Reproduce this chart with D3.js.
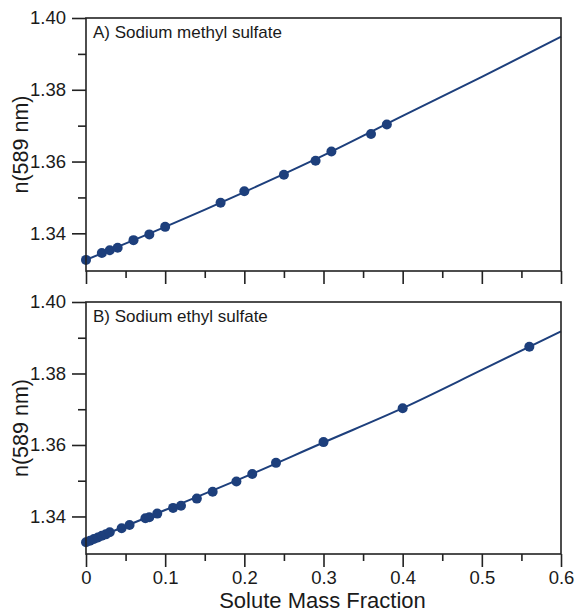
<!DOCTYPE html>
<html><head><meta charset="utf-8">
<script src="https://cdn.jsdelivr.net/npm/d3@7"></script>
<style>body{margin:0;background:#fff}svg{display:block}text{font-family:"Liberation Sans",Arial,sans-serif;fill:#1a1a1a}</style>
</head><body><svg id="c" width="576" height="614"></svg>
<script>
// Panel A: sodium methyl sulfate
const methylX = [0, 0.02, 0.03, 0.04, 0.06, 0.08, 0.10, 0.17, 0.20, 0.25, 0.29, 0.31, 0.36, 0.38];
const methylN = [1.3326, 1.3345, 1.3353, 1.3360, 1.3381, 1.3397, 1.3418, 1.3485, 1.3517, 1.3563, 1.3602, 1.3628, 1.3677, 1.3703];
const methylFitX = [0, 0.1, 0.2, 0.3, 0.4, 0.5, 0.6];
const methylFitN = [1.3326, 1.3418, 1.3515, 1.3617, 1.3727, 1.3836, 1.3948];
// Panel B: sodium ethyl sulfate
const ethylX = [0, 0.005, 0.01, 0.015, 0.02, 0.025, 0.03, 0.045, 0.055, 0.075, 0.08, 0.09, 0.11, 0.12, 0.14, 0.16, 0.19, 0.21, 0.24, 0.30, 0.40, 0.56];
const ethylN = [1.3328, 1.3332, 1.3337, 1.3341, 1.3346, 1.3350, 1.3356, 1.3367, 1.3376, 1.3395, 1.3398, 1.3408, 1.3424, 1.3430, 1.3450, 1.3469, 1.3498, 1.3519, 1.3550, 1.3608, 1.3703, 1.3875];
const ethylFitX = [0, 0.1, 0.2, 0.3, 0.4, 0.5, 0.6];
const ethylFitN = [1.3328, 1.3418, 1.3510, 1.3607, 1.3703, 1.3810, 1.3918];

const panelTitles = ["A) Sodium methyl sulfate", "B) Sodium ethyl sulfate"];
const xTicks = [0, 0.1, 0.2, 0.3, 0.4, 0.5, 0.6];
const xTickLabels = ["0", "0.1", "0.2", "0.3", "0.4", "0.5", "0.6"];
const xMinor = [0.05, 0.15, 0.25, 0.35, 0.45, 0.55];
const yTicks = [1.34, 1.36, 1.38, 1.40];
const yMinor = [1.35, 1.37, 1.39];
const yLabel = "n(589 nm)";
const xLabel = "Solute Mass Fraction";

const svg = d3.select("#c");
const col = "#1d3f7c";
const L = 86, R = 561;
const panels = [
  {top: 18, bottom: 271, xs: methylX, ys: methylN, fx: methylFitX, fy: methylFitN, title: panelTitles[0], labels: false},
  {top: 302, bottom: 554, xs: ethylX, ys: ethylN, fx: ethylFitX, fy: ethylFitN, title: panelTitles[1], labels: true}
];
const x = d3.scaleLinear().domain([0, 0.6]).range([L, R]);

panels.forEach(p => {
  const y = d3.scaleLinear().domain([1.3295, 1.40]).range([p.bottom, p.top]);
  const g = svg.append("g");
  const line = d3.line().x(d => x(d[0])).y(d => y(d[1])).curve(d3.curveMonotoneX);
  g.append("path").datum(p.fx.map((v, i) => [v, p.fy[i]])).attr("d", line)
    .attr("fill", "none").attr("stroke", col).attr("stroke-width", 2);
  g.selectAll("circle").data(p.xs.map((v, i) => [v, p.ys[i]])).join("circle")
    .attr("cx", d => x(d[0])).attr("cy", d => y(d[1])).attr("r", 5).attr("fill", col);
  g.append("rect").attr("x", L).attr("y", p.top).attr("width", R - L).attr("height", p.bottom - p.top)
    .attr("fill", "none").attr("stroke", "#222").attr("stroke-width", 1.6);
  const ya = g.append("g").attr("transform", `translate(${L},0)`)
    .call(d3.axisLeft(y).tickValues(yTicks).tickFormat(d3.format(".2f")).tickSize(14).tickPadding(6));
  ya.select(".domain").remove();
  ya.selectAll("line").attr("stroke", "#222").attr("stroke-width", 1.6);
  ya.selectAll("text").style("font-size", "18.5px").attr("fill", "#1a1a1a");
  const ym = g.append("g").attr("transform", `translate(${L},0)`)
    .call(d3.axisLeft(y).tickValues(yMinor).tickFormat("").tickSize(8));
  ym.select(".domain").remove();
  ym.selectAll("line").attr("stroke", "#222").attr("stroke-width", 1.6);
  const xa = g.append("g").attr("transform", `translate(0,${p.bottom})`)
    .call(d3.axisBottom(x).tickValues(xTicks).tickFormat((d, i) => p.labels ? xTickLabels[i] : "").tickSize(13).tickPadding(4));
  xa.select(".domain").remove();
  xa.selectAll("line").attr("stroke", "#222").attr("stroke-width", 1.6);
  xa.selectAll("text").style("font-size", "18.5px").attr("fill", "#1a1a1a");
  const xm = g.append("g").attr("transform", `translate(0,${p.bottom})`)
    .call(d3.axisBottom(x).tickValues(xMinor).tickFormat("").tickSize(7));
  xm.select(".domain").remove();
  xm.selectAll("line").attr("stroke", "#222").attr("stroke-width", 1.6);
  g.append("text").attr("x", 93).attr("y", p.top + 20).style("font-size", "17px").text(p.title);
  g.append("text").attr("transform", `translate(28,${(p.top + p.bottom) / 2}) rotate(-90)`)
    .attr("text-anchor", "middle").style("font-size", "21.5px").text(yLabel);
});
svg.append("text").attr("x", (L + R) / 2 - 1).attr("y", 608).attr("text-anchor", "middle")
  .style("font-size", "22px").text(xLabel);
</script></body></html>
